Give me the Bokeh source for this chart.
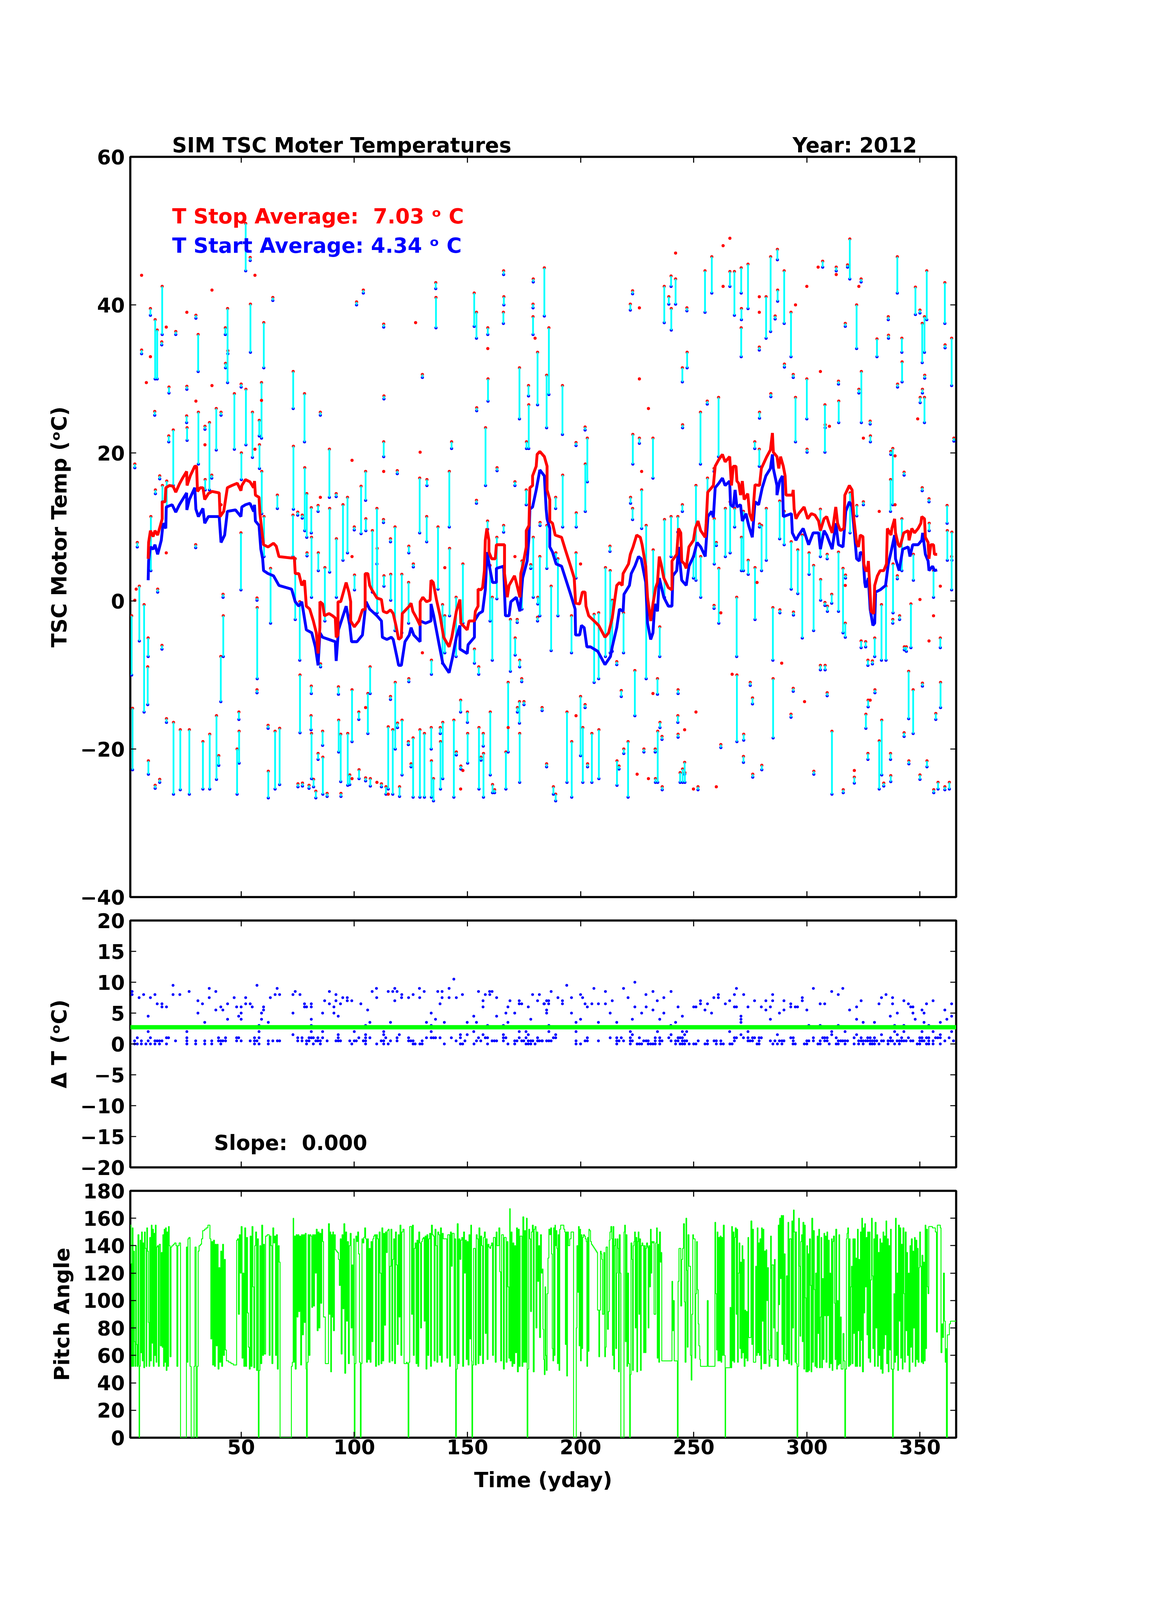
from bokeh.plotting import figure
from bokeh.layouts import column
from bokeh.models import Range1d, LinearAxis, FixedTicker, Label
from bokeh.embed import file_html
from bokeh.resources import INLINE

# ---------------- data ----------------
year = 2012
t_stop_avg = 7.03
t_start_avg = 4.34
dt_slope = 0.000
dt_intercept = 2.7

# individual moves: day, stop temperature (red end), start temperature (blue end)
ev_day = [
    1.6, 2.0, 3.0, 4.1, 5.0, 6.0, 7.1, 8.9, 8.7, 9.0,
    9.9, 10.1, 12.0, 11.8, 12.1, 12.0, 12.9, 13.1, 14.0, 14.0,
    15.1, 14.9, 15.2, 15.0, 17.1, 17.0, 18.1, 18.0, 20.0, 20.1,
    21.1, 23.1, 26.0, 25.9, 26.1, 27.1, 30.0, 29.9, 31.0, 31.1,
    33.1, 34.0, 34.1, 36.0, 36.1, 37.0, 39.0, 39.1, 40.1, 41.1,
    41.0, 42.0, 42.1, 43.0, 43.1, 44.0, 44.1, 47.0, 48.2, 49.0,
    49.1, 50.0, 50.1, 49.9, 52.0, 52.1, 54.0, 54.1, 55.0, 57.0,
    57.1, 57.0, 58.0, 58.1, 59.0, 59.1, 60.0, 60.1, 61.9, 62.0,
    63.0, 64.0, 65.0, 66.0, 67.0, 73.0, 73.1, 72.9, 73.9, 75.0,
    75.9, 76.0, 75.1, 77.0, 77.1, 78.0, 78.1, 79.0, 79.1, 80.0,
    81.0, 81.1, 81.0, 80.9, 81.1, 82.0, 83.0, 84.0, 84.1, 84.0,
    85.0, 85.1, 86.0, 86.1, 87.0, 88.0, 89.0, 89.1, 92.0, 92.1,
    93.0, 93.1, 94.0, 94.1, 95.0, 97.0, 97.1, 98.0, 99.0, 100.0,
    100.1, 101.0, 102.0, 102.1, 103.0, 104.0, 105.0, 105.1, 105.0, 106.0,
    107.0, 107.1, 108.0, 110.0, 110.1, 112.0, 113.0, 113.1, 113.0, 112.9,
    113.1, 114.0, 115.0, 116.0, 116.1, 116.0, 117.0, 118.0, 118.1, 119.0,
    119.1, 120.0, 121.0, 121.1,
    124.1, 124.0, 124.1, 123.9, 125.1, 126.1, 126.0, 128.9, 129.0, 130.1,
    131.0, 132.1, 132.0, 134.1, 134.0, 134.1, 135.0, 136.0, 136.1, 137.0,
    138.0, 138.1, 139.0, 139.1, 140.0, 142.0, 142.1, 143.0, 144.0, 145.0,
    145.1, 147.0, 147.1, 148.0, 150.0, 150.1, 153.0, 153.1, 154.0, 154.1,
    154.0, 155.0, 155.1, 156.0, 157.0, 157.1, 158.0, 159.0, 159.1, 158.9,
    160.0, 160.1, 161.0, 161.1, 162.0, 163.0, 163.1, 166.0, 166.1, 165.9,
    166.0, 167.0, 168.0, 169.0, 171.0, 171.1, 172.0, 172.1, 173.0, 173.1,
    173.0, 173.1, 174.0, 174.1, 175.0, 176.0, 176.1, 177.0, 177.1, 178.0,
    179.0, 179.1, 179.0, 179.1, 181.0, 181.1, 181.0, 182.0, 182.1, 183.0,
    184.0, 185.0, 185.1, 185.0, 186.0, 187.0, 188.0, 189.0, 189.1, 189.0,
    190.0, 192.0, 192.1, 194.0, 196.0, 196.1, 198.0, 198.1, 198.0, 200.0,
    201.0, 202.0, 202.1, 202.0, 203.0, 203.1, 205.0, 206.0, 208.0, 208.1,
    211.0, 213.0, 213.1, 214.0, 216.0, 216.1, 217.0, 218.0, 219.0, 219.1,
    221.0, 222.0, 222.1, 223.0, 223.1, 223.0, 224.0, 226.0, 227.0, 228.0,
    229.0, 232.0, 232.1, 233.0, 233.1, 234.0, 234.1, 235.0, 235.1, 236.0,
    236.1, 237.0, 237.1, 239.0, 240.0, 240.1, 240.0, 242.0, 243.0, 243.1,
    243.0, 243.1, 244.0, 245.0, 245.1, 245.0, 245.1,
    247.0, 247.1, 246.0, 246.1, 249.9, 251.0, 251.9, 253.0, 253.1, 255.0,
    256.0, 256.1, 258.0, 259.0, 259.1, 259.0, 260.0, 261.0, 261.1, 262.0,
    264.0, 266.0, 266.1, 268.0, 268.1, 269.0, 269.1, 271.0, 271.1, 271.0,
    271.1, 272.0, 272.1, 272.0, 274.0, 274.1, 275.0, 276.0, 276.1, 277.0,
    277.1, 279.0, 279.1, 279.0, 279.1, 280.0, 280.1, 282.0, 282.1, 284.0,
    284.1, 285.0, 285.1, 286.0, 287.0, 287.1, 288.0, 288.1, 290.0, 290.1,
    290.0, 293.0, 293.1, 293.0, 294.0, 294.1, 294.0, 295.0, 296.0, 298.0,
    300.0, 300.1, 301.0, 303.0, 303.1, 306.0, 306.1, 306.0, 307.0, 308.0,
    308.1, 308.0, 308.1, 309.0, 309.1, 309.0, 311.0, 311.1, 313.0, 314.0,
    314.1, 314.0, 316.0, 316.1, 317.0, 317.1, 317.0, 318.0, 319.0, 319.1,
    321.0, 322.0, 322.1, 323.0, 324.0, 324.1, 324.0, 325.0, 326.0, 326.1,
    327.0, 327.1, 327.0, 328.0, 328.1, 329.0, 330.0, 330.1, 331.0, 332.0,
    333.0, 333.1, 334.0, 335.0, 336.0, 336.1, 337.0, 337.1, 337.0, 337.1,
    338.0, 338.1, 338.0, 340.0, 340.1, 340.0, 341.0, 342.0, 342.1, 342.0,
    343.0, 343.1, 343.0, 344.0, 345.0, 345.1, 346.0, 347.0, 347.1, 348.0,
    350.0, 350.1, 350.0, 351.0, 351.1, 351.0, 351.1, 352.0, 352.1, 352.0,
    353.0, 353.1, 354.0, 354.1, 356.0, 356.1, 357.0, 358.0, 359.0, 359.1,
    361.0, 361.1, 361.0, 362.0, 362.1, 363.0, 364.0, 364.1, 364.0, 365.0,
]
ev_stop = [
    -2.0, -14.5, 18.5, 7.9, 2.0, 33.9, -0.5, -5.0, -8.9, -21.6,
    39.5, 11.4, 38.0, 25.6, 15.0, -24.9, 36.6, 1.6, 16.9, -24.1,
    42.5, 35.0, 15.6, -6.0, 16.2, -15.9, 28.9, 22.3, 23.1, -16.4,
    36.4, -17.4, 29.0, 25.0, 23.4, -17.4, 38.6, 7.6, 36.0, 25.5,
    -19.0, 23.6, 16.4, 24.1, -18.0, 17.0, 26.0, -15.5, -20.9, 25.5,
    -7.5, 0.9, -2.0, 36.9, 32.1, 39.5, 33.8, 28.0, -20.0, -15.0,
    -17.6, 29.3, 20.0, 9.2, 51.0, 28.6, 46.4, 40.1, 25.5, 0.4,
    -0.9, -12.0, 24.4, 21.1, 29.5, 17.5, 37.6, 11.4, -16.8, -23.0,
    4.4, 41.0, -17.6, 14.3, -17.2, 31.0, 20.9, 11.6, 5.7, 12.0,
    -0.1, -10.0, -24.7, 11.6, -24.6, 28.0, 18.0, 14.5, 6.5, -24.9,
    12.6, 8.6, -11.5, -15.5, -17.9, -24.1, -25.7, 12.9, 6.5, -20.6,
    25.5, -8.5, -17.6, -21.1, 4.5, -26.0, 20.5, 12.5, 14.5, 8.4,
    -11.6, -16.1, -18.0, -26.0, 13.0, 14.0, -17.9, -23.5, -12.0, 10.0,
    3.5, 40.4, -15.0, -22.8, 15.5, 42.0, 17.5, 11.1, -23.9, -12.5,
    -8.9, -24.0, 9.5, 12.5, 7.1, -24.7, 37.4, 27.7, 21.5, 11.0,
    3.4, -25.1, -17.0, 8.4, 3.6, -12.9, -17.4, 10.0, -11.0, 17.6,
    -16.5, -25.1, 3.6, -16.1,
    7.4, 2.5, -10.5, -19.0, -22.0, 5.0, -18.5, 16.6, -17.4, 30.6,
    -17.9, 16.4, 11.4, -8.0, -17.1, -21.6, -24.0, 43.0, 41.0, 10.0,
    -17.1, -19.0, -0.5, -16.4, -2.0, 17.5, 7.1, 21.5, -16.1, 0.5,
    -20.4, -13.4, -22.3, 5.0, -15.0, -17.9, 41.6, -6.5, 39.0, 26.1,
    13.6, -8.9, -17.1, -21.1, -17.9, -20.6, 23.4, 36.9, 30.0, 10.8,
    4.8, -15.0, 0.5, -24.8, -25.5, 8.6, 18.0, 44.6, 41.1, 39.0,
    10.2, -20.4, -11.0, -2.5, 16.1, -5.0, -2.5, -14.4, 31.5, -8.0,
    -13.6, -17.9, -10.5, 5.4, -13.6, 15.0, 21.5, 29.1, 26.5, 4.9,
    38.4, 43.5, 40.1, 8.6, 33.6, 0.5, -2.2, 6.0, 10.6, -14.4,
    45.0, 30.5, 10.2, -22.0, 36.9, 2.0, -25.1, 14.0, 6.5, -26.1,
    5.7, 29.1, 17.0, -15.0, -2.0, -19.0, 21.4, 11.9, 6.5, -12.9,
    -17.1, 23.5, 18.5, -14.0, 22.0, -22.0, -17.9, -1.8, -1.6, -17.4,
    4.5, 7.4, 4.1, 0.1, -8.2, -21.6, -22.3, -12.1, -1.6, -20.0,
    -19.0, 40.1, 14.0, 41.9, 22.5, 12.5, -9.4, 22.0, 15.0, -20.0,
    10.2, 22.0, 6.9, -20.0, -24.0, -10.5, -17.6, -3.5, -16.4, -18.3,
    -25.1, 42.5, 11.0, 41.1, 43.9, 39.5, 11.4, 43.5, 11.4, -12.0,
    -15.5, -18.0, -23.2, 31.5, 23.8, 13.0, -22.7,
    39.6, 33.6, -21.8, -23.2, 6.0, 15.6, -25.1, 25.5, 6.0, 44.6,
    27.0, 16.6, 46.5, 17.9, 11.1, -0.6, 7.9, 27.5, 4.4, -19.4,
    12.5, 44.5, 13.4, 44.5, 12.5, 0.5, -10.0, 45.0, 39.5, 36.9,
    8.6, 12.1, -18.0, -21.0, 45.5, 5.5, -11.0, -13.1, -23.4, 21.5,
    4.5, 34.3, 25.5, 20.5, 10.4, 10.2, -22.2, 41.1, 12.5, 46.5,
    28.0, -0.9, -10.5, 38.5, 47.5, 42.0, 13.5, -1.2, 44.6, 32.0,
    12.1, 39.0, 8.0, -15.3, 30.6, -1.5, -11.8, 27.5, 6.9, 8.9,
    30.0, 20.5, 6.5, 4.8, -23.0, 12.4, 2.9, -8.7, 45.9, 26.5,
    23.8, -0.2, -8.7, 6.3, -0.7, -12.4, 0.9, -17.6, 45.1, 29.7,
    27.0, 6.6, 4.4, -25.5, 37.5, 3.5, -3.0, 45.4, 48.9, 14.6,
    -23.8, 40.0, 12.9, 28.6, 43.5, 31.0, -5.4, 13.4, -5.5, -15.3,
    -8.0, -13.4, -20.6, 24.3, 22.3, -8.1, -5.0, -12.0, 35.4, -18.9,
    -0.5, -16.1, -24.6, 2.0, 38.4, 35.9, 16.4, 20.2, -20.6, -23.6,
    20.6, 5.0, -2.5, 46.5, 29.3, 3.4, -2.0, 35.5, 32.3, 11.1,
    17.4, -6.2, -17.8, -6.2, -9.5, -21.6, -0.4, -12.0, 6.3, 42.4,
    39.3, 27.5, -23.5, 37.5, 28.6, 15.3, -11.1, 38.4, 30.5, 27.5,
    44.6, -21.6, 13.8, 10.5, 4.1, -25.5, -15.2, -24.5, -5.0, -11.0,
    43.0, 34.6, -25.1, 12.9, 9.5, -24.5, 35.5, 9.3, 6.0, 22.0,
]
ev_start = [
    -10.0, -22.8, 18.0, 7.3, -5.4, 33.4, -15.0, -7.5, -14.0, -23.4,
    38.6, 4.1, 30.0, 25.1, 14.5, -25.3, 30.0, 1.2, 16.5, -24.5,
    36.0, 34.6, 13.4, -6.5, 12.7, -16.4, 28.1, 21.5, 15.6, -26.1,
    36.0, -25.5, 28.6, 24.1, 21.7, -26.1, 38.2, 7.2, 31.0, 18.5,
    -25.4, 23.2, 15.0, 15.0, -25.4, 16.6, 20.4, -24.1, -22.2, 25.1,
    -13.6, 0.5, -7.5, 36.0, 31.5, 29.5, 33.4, 20.5, -26.1, -16.0,
    -21.9, 28.9, 16.4, 1.5, 44.6, 21.1, 46.0, 33.6, 19.4, 0.1,
    -10.5, -12.4, 22.3, 17.9, 22.0, 11.8, 31.5, 6.0, -17.2, -26.6,
    -3.0, 40.6, -25.4, 12.5, -24.8, 26.0, 12.4, 6.0, -2.5, 11.6,
    -8.0, -17.8, -25.1, 11.2, -25.0, 21.5, 9.5, 8.6, 6.1, -25.3,
    9.2, 0.5, -12.5, -17.4, -24.0, -25.1, -26.6, 12.1, 4.1, -21.4,
    25.1, -8.9, -19.5, -26.1, -2.7, -26.4, 14.0, 3.9, 14.1, 0.5,
    -12.6, -20.4, -24.4, -26.4, 5.5, 6.5, -24.9, -24.8, -19.0, 9.6,
    1.5, 40.0, -16.0, -24.0, 9.1, 41.6, 13.6, 9.5, -24.3, -17.9,
    -12.5, -25.0, 1.2, 5.0, -1.6, -25.1, 37.0, 27.3, 19.5, 10.6,
    2.0, -26.1, -25.4, 8.0, 0.1, -13.3, -26.1, -4.0, -20.0, 17.2,
    -17.1, -26.4, -4.3, -23.5,
    6.5, -3.0, -10.9, -19.4, -22.4, 4.6, -26.5, 9.2, -26.5, 30.2,
    -26.5, 15.6, 8.0, -9.9, -20.0, -26.5, -27.0, 42.2, 36.9, 1.6,
    -17.9, -25.4, -8.4, -24.0, -7.0, 10.0, -2.0, 20.6, -26.5, -7.5,
    -20.8, -15.0, -22.7, -3.0, -16.4, -21.9, 37.1, -8.4, 35.5, 25.7,
    13.2, -9.9, -25.4, -21.5, -19.6, -26.5, 15.6, 36.0, 27.0, 9.7,
    -2.7, -23.5, -8.0, -25.9, -25.9, 0.3, 17.6, 44.1, 40.0, 37.5,
    9.3, -25.4, -20.4, -9.5, 15.6, -7.3, -2.9, -15.0, 24.6, -8.9,
    -16.5, -24.5, -10.9, -1.1, -14.0, 13.0, 20.6, 27.7, 20.6, 4.4,
    36.0, 43.1, 39.6, 0.5, 26.5, -0.4, -2.7, -2.0, 10.2, -14.8,
    38.5, 23.4, 4.4, -22.4, 27.9, -6.7, -26.1, 12.5, 5.7, -27.0,
    -2.0, 22.5, 10.0, -24.5, -7.0, -26.5, 21.0, 10.0, 3.1, -20.9,
    -24.5, 23.1, 12.1, -14.4, 16.1, -22.4, -24.5, -11.0, -10.5, -24.0,
    -7.5, 6.7, -7.0, -6.8, -8.6, -24.9, -22.7, -12.9, -7.0, -20.6,
    -26.5, 39.3, 13.2, 41.5, 18.5, 11.0, -15.5, 21.3, 9.8, -20.4,
    -10.5, 16.6, -2.3, -20.4, -24.5, -12.6, -24.5, -7.5, -17.1, -18.7,
    -25.5, 37.6, 0.5, 40.1, 42.5, 36.6, 6.0, 40.1, 9.3, -12.5,
    -16.4, -18.4, -24.5, 29.6, 23.4, 12.1, -24.5,
    39.2, 31.5, -23.4, -24.5, 3.1, 2.8, -25.5, 18.5, 0.5, 39.0,
    26.6, 11.1, 41.6, 17.5, 5.0, -1.0, 7.5, 19.5, -3.0, -19.8,
    6.0, 42.5, 6.5, 38.6, 10.0, -7.5, -19.0, 41.6, 38.0, 33.0,
    4.1, 4.1, -18.8, -21.8, 39.5, 3.6, -11.4, -13.9, -23.8, 20.6,
    -2.5, 33.9, 24.7, 18.2, 10.0, 4.1, -22.8, 35.5, 5.5, 36.4,
    27.6, -8.0, -18.5, 38.1, 46.1, 40.5, 8.4, -1.6, 37.5, 31.6,
    7.6, 33.0, 1.6, -15.7, 30.2, -1.9, -12.2, 21.5, 1.0, -5.0,
    24.6, 20.1, 3.6, -4.0, -23.4, 6.0, 0.1, -9.3, 45.1, 20.1,
    23.4, -0.6, -9.3, 5.7, -1.4, -12.8, -0.3, -26.1, 44.6, 29.3,
    24.1, -1.4, -4.3, -25.9, 37.1, 3.1, -4.9, 45.1, 43.5, 9.2,
    -24.6, 34.1, 11.5, 28.1, 43.1, 24.1, -6.3, 13.0, -6.2, -17.2,
    -8.7, -14.3, -21.4, 23.9, 21.5, -8.5, -7.5, -12.4, 33.0, -25.4,
    -8.0, -23.5, -25.0, -8.0, 38.0, 35.5, 12.1, 19.8, -21.4, -24.4,
    13.0, -1.6, -3.0, 41.6, 28.9, 3.0, -2.5, 33.6, 29.6, 4.1,
    17.0, -6.6, -18.3, -6.8, -15.9, -22.0, -6.3, -17.9, 2.8, 38.7,
    38.9, 26.8, -24.1, 32.2, 28.1, 14.9, -11.5, 33.6, 30.1, 24.1,
    38.0, -22.4, 13.4, 9.5, 0.5, -25.9, -16.0, -25.4, -6.3, -14.4,
    37.5, 34.2, -25.5, 10.5, 5.5, -25.4, 29.1, 5.5, 1.5, 21.6,
]

# stop readings with no matching start
stop_only_day = [6.0, 9.9, 8.1, 37.1, 26.0, 16.9, 37.1, 30.0, 34.0, 56.1,
                 56.1, 41.1, 16.9, 3.6, 3.0, 99.0, 99.0, 85.0, 113.0, 105.0,
                 110.0, 99.0, 115.0, 59.0, 127.1, 129.1, 130.1, 140.0, 147.0, 148.0,
                 159.0, 168.0, 171.0, 179.9, 198.0, 200.0, 225.0, 226.0, 226.0, 227.0,
                 230.0, 230.0, 232.0, 242.0, 246.0, 263.0, 263.0, 266.0, 267.0, 262.0,
                 278.0, 279.0, 279.0, 288.9, 295.0, 299.0, 300.0, 305.0, 306.0, 310.0,
                 313.0, 317.0, 321.0, 323.0, 325.0, 328.0, 332.0, 339.0, 339.0, 349.0,
                 350.0, 354.0, 356.0, 359.0, 249.9, 251.0, 260.0]
stop_only_val = [44.0, 33.0, 29.5, 42.0, 39.0, 37.0, 29.1, 27.0, 21.1, 44.0,
                 20.5, 13.0, 6.5, 1.6, 0.1, 19.0, 6.0, 14.0, 17.5, -14.4,
                 -24.5, -24.0, -26.1, 27.1, 37.6, 20.1, -7.0, 4.5, -25.4, -22.9,
                 34.1, -17.1, 6.0, 35.5, -15.5, 5.0, -23.4, 39.6, 30.0, 17.5,
                 26.0, -24.0, -12.5, 47.0, -17.4, 48.0, 42.5, 49.0, -9.9, -1.6,
                 2.5, 41.1, 39.0, -8.4, 40.0, -13.6, 42.5, 45.1, 31.0, 23.6,
                 44.1, 2.1, -22.9, 42.5, 22.0, -13.4, 12.1, 19.6, 13.0, 24.6,
                 0.2, -5.4, -2.0, 2.0, -25.4, -15.0, -25.1]

# running averages
stop_avg_day = [
    8.9, 9.1, 9.9, 11.1, 11.9, 13.1, 14.3, 15.1, 15.1, 16.4, 16.7, 18.3, 19.9, 21.1, 22.7,
    24.3, 25.9, 26.1, 27.5, 29.5, 30.3, 30.7, 31.9, 33.1, 33.9, 35.5, 37.1, 40.3, 40.7, 42.3,
    43.9, 45.9, 48.3, 49.9, 50.3, 51.9, 53.9, 55.5, 55.9, 56.3, 57.9, 58.3, 59.5, 59.9, 61.9,
    64.3, 65.5, 66.7, 72.3, 73.5, 73.9, 75.5, 76.8, 78.0, 78.8, 80.3, 81.9, 83.2, 84.0, 84.8,
    84.8, 86.0, 86.8, 88.8, 90.4, 91.6, 92.0, 92.8, 92.8, 94.0, 96.4, 97.6, 98.4, 98.4, 100.0,
    102.0, 103.6, 104.8, 104.8, 106.0, 106.8, 107.6, 110.0, 112.0, 112.8, 114.4, 116.0, 117.2, 118.4, 119.6,
    120.8, 121.2, 124.3, 125.1, 125.9, 127.5, 129.1, 129.1, 130.3, 131.9, 133.5, 133.9, 134.9, 136.3, 137.9,
    139.5, 141.9, 143.1, 145.1, 146.7, 147.1, 149.9, 150.7, 153.1, 153.5, 154.7, 154.7, 155.9, 156.7, 157.5,
    157.9, 158.6, 159.5, 159.5, 160.7, 162.3, 162.8, 166.4, 166.4, 167.2, 167.6, 168.4, 170.8, 171.6, 173.2,
    173.6, 174.4, 176.0, 176.0, 177.2, 177.6, 178.8, 178.8, 180.4, 180.8, 182.0, 184.0, 185.2, 185.2, 186.4,
    186.4, 187.6, 188.8, 191.6, 193.2, 195.6, 197.2, 197.8, 199.6, 200.8, 202.0, 202.4, 203.6, 206.0, 208.0,
    210.8, 212.4, 214.0, 216.0, 217.2, 218.4, 218.8, 221.2, 222.0, 223.2, 224.8, 226.4, 227.2, 228.8, 229.6,
    231.0, 232.0, 233.2, 234.0, 234.8, 235.6, 236.8, 238.8, 240.4, 240.4, 242.5, 243.3, 244.3, 244.7, 245.9,
    246.7, 247.9, 249.9, 250.7, 251.9, 253.1, 255.1, 255.5, 256.2, 257.9, 258.7, 259.5, 261.1, 262.7, 263.9,
    265.9, 266.7, 267.5, 268.7, 269.1, 269.9, 270.7, 271.5, 272.3, 273.9, 274.7, 275.9, 277.1, 279.1, 279.9,
    282.3, 283.9, 284.8, 285.2, 286.8, 287.6, 288.4, 289.6, 290.4, 290.8, 293.6, 294.0, 294.4, 295.2, 296.4,
    298.8, 300.4, 302.0, 303.6, 305.2, 306.0, 307.6, 308.8, 310.0, 311.2, 312.8, 313.6, 314.8, 316.4, 316.8,
    318.8, 320.0, 320.8, 322.0, 322.8, 323.6, 324.8, 325.2, 326.0, 326.8, 327.2, 328.0, 328.4, 329.6, 330.0,
    331.2, 332.4, 334.0, 335.2, 335.6, 337.2, 337.6, 338.8, 339.2, 340.4, 341.2, 342.8, 344.8, 345.2, 346.4,
    347.6, 349.2, 350.4, 350.8, 352.0, 352.4, 353.6, 354.0, 354.8, 356.0, 356.4, 357.6,
]
stop_avg_val = [
    5.7, 7.9, 9.5, 8.7, 9.5, 8.9, 10.2, 11.1, 13.4, 13.4, 15.3, 15.6, 15.5, 14.7, 15.8,
    16.7, 17.5, 15.6, 16.9, 18.2, 18.2, 14.8, 15.3, 15.3, 13.7, 14.5, 14.8, 14.6, 11.4, 12.1,
    15.3, 15.6, 15.9, 14.9, 15.6, 16.4, 16.1, 15.3, 16.2, 14.3, 14.0, 11.8, 8.6, 7.6, 7.3,
    7.8, 7.4, 6.0, 5.8, 5.9, 3.7, 3.7, 2.1, 2.8, -0.7, -1.1, -2.7, -4.3, -7.1, -3.6,
    -0.1, -0.4, -2.0, -1.7, -2.0, -2.3, -4.9, -4.6, -0.1, -0.1, 2.5, 1.2, -0.1, -2.7, -3.5,
    -2.7, -1.2, -1.1, 3.7, 3.7, 2.1, 1.6, 0.4, 0.2, -1.4, -1.6, -1.2, -1.7, -3.3, -5.2,
    -4.9, -1.7, -0.7, -0.3, -1.4, -2.3, -3.3, -0.1, 0.5, -0.1, 0.1, 2.8, 2.5, 0.2, -2.0,
    -4.9, -6.2, -4.9, -1.4, 0.2, -3.0, -3.9, -2.7, -2.7, -1.4, -0.7, 1.6, 1.5, 1.8, 4.1,
    8.2, 9.8, 8.2, 6.6, 5.7, 5.7, 7.6, 7.6, 3.7, 1.8, 0.5, 2.1, 3.4, 2.5, 0.5,
    3.7, 4.7, 7.3, 9.5, 10.2, 15.3, 15.6, 16.9, 18.2, 19.8, 20.2, 19.5, 18.2, 15.0, 13.7,
    10.8, 10.5, 8.9, 8.6, 7.0, 4.7, 3.1, -0.3, -0.4, 1.2, 1.2, -0.7, -2.0, -2.7, -3.3,
    -4.9, -4.3, -2.3, 2.1, 2.5, 2.1, 3.7, 5.0, 6.3, 7.3, 8.9, 8.6, 7.6, 4.7, 0.5,
    -2.7, -0.4, 1.8, 2.5, 6.0, 5.0, 3.1, 1.8, 1.5, 5.4, 6.3, 9.8, 9.2, 5.4, 5.0,
    4.4, 7.3, 8.2, 9.8, 10.8, 9.5, 8.6, 10.5, 14.7, 15.3, 15.6, 18.2, 19.1, 19.8, 18.8,
    19.5, 15.6, 18.2, 18.2, 16.2, 15.9, 14.3, 16.2, 13.7, 14.5, 11.8, 10.8, 15.7, 15.6, 17.9,
    19.5, 20.4, 22.7, 20.1, 19.5, 17.9, 19.5, 18.2, 16.9, 14.3, 14.3, 15.0, 12.4, 11.1, 11.8,
    12.7, 11.1, 11.8, 11.6, 10.8, 9.5, 11.1, 11.4, 10.2, 9.2, 12.7, 10.5, 9.5, 9.8, 14.3,
    15.6, 15.0, 11.1, 7.9, 7.3, 8.9, 8.7, 5.0, 4.1, 4.1, 5.4, 0.9, -1.4, -1.7, 2.1,
    3.4, 4.1, 4.1, 5.0, 9.8, 8.9, 9.8, 11.1, 9.2, 7.6, 7.3, 9.2, 9.5, 8.2, 9.8,
    9.2, 9.8, 10.5, 11.4, 11.1, 8.6, 7.9, 5.7, 7.6, 7.6, 6.3, 6.3,
]
start_avg_day = [
    8.9, 9.1, 9.9, 11.1, 11.9, 13.1, 14.7, 15.5, 16.7, 16.9, 19.5, 21.1, 22.7, 25.9, 26.0,
    27.1, 29.5, 30.0, 31.1, 33.1, 33.9, 35.5, 40.3, 41.1, 42.7, 43.9, 47.5, 49.9, 50.3, 51.9,
    53.9, 55.5, 55.9, 56.3, 57.9, 58.7, 59.5, 59.9, 61.9, 64.3, 66.7, 72.3, 73.9, 75.5, 76.8,
    78.8, 81.2, 82.8, 84.0, 84.8, 86.0, 88.8, 91.6, 92.0, 93.0, 96.4, 98.0, 98.8, 101.2, 103.6,
    105.2, 106.8, 110.0, 112.0, 112.4, 114.4, 116.4, 117.2, 118.8, 119.6, 120.8, 122.4, 124.3, 125.1, 126.3,
    129.1, 129.1, 131.5, 133.9, 133.9, 135.1, 137.5, 139.1, 141.9, 143.5, 145.1, 146.7, 146.7, 149.9, 150.3,
    153.1, 153.1, 155.1, 156.7, 157.9, 158.7, 159.9, 161.1, 162.8, 162.8, 166.0, 166.4, 166.8, 168.4, 169.2,
    171.6, 173.2, 174.4, 176.4, 177.2, 177.6, 178.8, 180.4, 182.0, 184.0, 184.8, 185.2, 186.4, 186.4, 187.6,
    189.2, 191.6, 195.6, 197.6, 197.8, 199.6, 200.4, 201.6, 202.8, 204.4, 207.6, 210.8, 213.2, 214.0, 216.0,
    217.2, 218.8, 219.2, 221.6, 222.4, 224.0, 225.6, 226.8, 228.8, 229.6, 231.0, 232.0, 232.8, 234.0, 234.8,
    236.8, 238.8, 240.4, 240.8, 242.5, 243.3, 244.7, 246.7, 247.9, 249.9, 251.5, 253.1, 255.1, 256.3, 257.9,
    258.7, 259.5, 261.1, 262.7, 263.9, 265.9, 266.3, 267.5, 268.3, 269.1, 270.7, 271.5, 273.1, 274.3, 275.9,
    277.1, 278.7, 280.3, 281.9, 283.9, 284.8, 285.2, 286.8, 286.8, 288.0, 289.2, 289.6, 293.2, 293.6, 295.2,
    296.4, 298.4, 300.8, 302.8, 305.2, 306.0, 307.6, 308.8, 311.2, 312.8, 314.0, 316.0, 317.2, 318.8, 320.0,
    321.2, 322.0, 323.2, 323.6, 324.8, 325.6, 326.0, 327.2, 328.0, 329.2, 330.0, 330.4, 332.4, 334.8, 336.0,
    337.2, 338.8, 339.2, 340.8, 342.4, 344.8, 345.6, 346.8, 349.2, 350.8, 351.2, 352.4, 353.6, 354.0, 355.6,
    356.4, 357.6,
]
start_avg_val = [
    2.8, 5.4, 7.3, 7.0, 7.6, 6.3, 8.2, 10.5, 9.8, 12.7, 13.0, 12.0, 13.0, 14.6, 12.3,
    13.7, 15.3, 12.4, 11.4, 12.5, 10.5, 11.4, 11.4, 7.9, 8.9, 12.1, 12.3, 11.4, 12.7, 13.0,
    13.2, 12.1, 13.0, 10.8, 10.2, 7.0, 5.7, 4.1, 3.7, 3.4, 2.1, 1.6, -0.1, -0.7, -0.1,
    -3.9, -4.3, -6.2, -8.7, -4.3, -4.9, -5.2, -5.5, -8.1, -3.9, -0.7, -3.3, -5.5, -5.5, -4.6,
    -0.1, -1.1, -2.0, -2.7, -4.9, -5.2, -4.9, -5.2, -7.5, -8.7, -8.7, -5.5, -4.6, -3.6, -4.6,
    -5.5, -2.7, -3.0, -2.7, -0.4, -2.0, -5.9, -8.4, -9.7, -7.5, -4.9, -3.3, -6.5, -7.1, -5.9,
    -4.9, -2.7, -1.7, -1.4, 1.5, 6.6, 4.4, 2.5, 2.5, 4.4, 4.7, 1.2, -2.0, -2.0, -0.1,
    0.5, -1.4, 3.1, 5.4, 8.6, 12.4, 12.7, 15.0, 17.7, 16.9, 12.4, 11.1, 9.8, 7.3, 6.6,
    5.0, 4.7, 0.9, -1.1, -4.6, -4.6, -3.3, -3.6, -6.2, -6.2, -6.8, -8.6, -7.5, -6.2, -3.6,
    -1.1, -1.4, 0.9, 2.1, 3.7, 4.7, 6.0, 5.7, 2.5, -3.0, -5.2, -4.3, -0.4, -1.4, 3.1,
    0.5, -0.7, -0.7, 3.4, 4.1, 7.3, 2.8, 2.1, 4.7, 6.0, 7.9, 7.3, 6.0, 11.4, 12.1,
    11.3, 15.3, 15.9, 16.6, 15.6, 16.2, 13.0, 12.7, 15.0, 12.7, 13.0, 10.8, 11.8, 10.2, 8.6,
    13.4, 13.0, 15.3, 16.9, 17.9, 19.8, 17.9, 15.6, 14.3, 16.2, 16.9, 11.4, 11.8, 9.2, 8.2,
    8.9, 9.8, 7.6, 9.2, 9.2, 7.0, 9.5, 8.9, 7.0, 10.5, 7.6, 7.3, 12.1, 13.4, 12.7,
    8.6, 5.7, 5.4, 6.6, 6.3, 2.5, 1.8, 3.1, -1.1, -3.3, -3.0, 1.2, 1.5, 2.1, 5.0,
    6.6, 8.9, 5.7, 4.1, 7.0, 7.3, 6.0, 7.6, 7.6, 8.2, 9.2, 6.3, 5.4, 4.1, 4.7,
    4.1, 4.2,
]

# delta T (stop - start), grouped by the 0.5 degree levels the sensor reports
dt_levels = [10.5, 10.0, 9.5, 9.0, 8.5, 8.0, 7.5, 7.0, 6.5, 6.0, 5.5,
             5.0, 4.5, 4.0, 3.5, 3.0, 2.0, 1.5, 1.0, 0.5, 0.0]
dt_days = [
    [144.0],
    [224.0],
    [19.9, 57.0, 193.9],
    [35.9, 65.9, 109.8, 117.9, 128.8, 141.9, 205.9, 219.0, 268.9, 302.9, 315.9],
    [1.8, 27.0, 38.8, 73.9, 89.0, 107.9, 115.0, 117.0, 118.9, 130.9, 136.9, 138.8, 154.9,
     159.8, 160.9, 187.0, 211.0, 232.0, 240.0, 311.0],
    [1.8, 6.9, 11.9, 19.9, 22.9, 65.0, 67.0, 72.9, 76.0, 91.9, 121.0, 126.0, 147.8, 157.9,
     159.9, 178.8, 181.8, 200.0, 228.9, 260.9, 268.0, 272.1, 284.9, 313.9, 335.0],
    [4.9, 9.9, 35.9, 46.9, 52.0, 62.9, 94.9, 96.9, 109.9, 120.9, 124.0, 128.9, 138.8, 141.9,
     145.1, 162.9, 190.0, 196.0, 200.9, 221.0, 236.8, 258.9, 260.9, 298.0, 333.0, 337.9],
    [30.9, 86.9, 91.9, 96.9, 98.9, 117.9, 156.9, 168.8, 172.9, 181.0, 185.0, 185.9, 192.0,
     214.0, 233.9, 253.0, 265.9, 276.9, 281.9, 284.9, 289.9, 298.0, 324.0, 342.9, 355.8],
    [12.9, 15.0, 32.9, 44.0, 52.0, 54.0, 78.0, 81.0, 89.0, 93.9, 102.9, 137.9, 172.9, 174.0,
     183.8, 184.0, 185.9, 192.0, 202.0, 205.0, 207.9, 211.0, 253.0, 256.1, 264.0, 292.9,
     305.9, 307.9, 331.9, 337.9, 344.9, 352.9, 364.0],
    [15.0, 17.0, 41.0, 48.0, 50.0, 54.9, 59.9, 78.0, 78.9, 81.0, 91.0, 156.9, 167.9, 176.9,
     203.0, 224.0, 229.0, 243.1, 250.0, 251.0, 268.0, 268.9, 274.0, 279.9, 283.9, 292.9,
     294.9, 295.9, 322.0, 345.9, 346.9],
    [38.8, 41.9, 59.9, 105.9, 185.0, 232.0, 255.0, 281.9, 289.9, 300.0, 318.9, 350.9, 361.0],
    [30.9, 50.0, 59.0, 72.9, 86.0, 91.0, 134.0, 167.0, 170.9, 185.0, 196.0, 213.1, 227.0,
     236.8, 257.9, 287.9, 340.0, 346.9, 351.8],
    [8.9, 48.9, 92.9, 152.8, 162.9, 245.0, 270.9, 336.9, 364.0],
    [44.0, 50.0, 59.0, 81.0, 135.9, 178.0, 200.0, 222.9, 235.0, 270.9, 283.9, 322.0, 347.9, 361.9],
    [33.9, 62.0, 106.9, 116.0, 131.9, 139.8, 149.9, 154.0, 167.9, 198.0, 207.9, 216.0, 242.0,
     270.9, 324.9, 329.9, 351.8, 359.0],
    [57.9, 81.0, 105.0, 134.0, 158.9, 165.9, 186.0, 239.9, 300.9, 305.9, 313.9, 338.8, 342.9, 353.9],
    [8.9, 26.0, 57.9, 81.0, 86.0, 100.0, 113.0, 134.0, 152.8, 172.9, 175.9, 186.0, 198.0,
     222.0, 234.0, 245.0, 246.9, 265.9, 274.0, 311.0, 316.9, 338.8, 342.9, 350.9, 355.8, 364.0],
    [72.9, 92.9, 105.0, 113.0, 119.9, 146.9, 149.9, 156.9, 165.9, 176.9, 189.0, 222.9, 240.0,
     246.0, 270.9, 287.0, 311.0, 322.0, 333.0, 340.0, 359.0],
    [4.1, 9.9, 17.0, 17.9, 26.0, 40.0, 43.1, 48.0, 48.9, 55.9, 57.9, 75.0, 76.9, 80.0, 81.0,
     81.9, 83.9, 86.0, 92.9, 102.0, 105.0, 106.9, 113.9, 118.9, 124.0, 131.9, 134.0, 135.0,
     135.9, 137.9, 142.9, 146.9, 154.9, 157.9, 158.9, 165.9, 167.0, 172.9, 175.9, 181.0,
     188.0, 189.0, 203.0, 213.1, 216.0, 218.0, 222.0, 226.0, 233.0, 235.0, 239.0, 243.1,
     244.0, 245.0, 268.0, 268.9, 272.0, 274.0, 276.0, 276.9, 278.9, 279.9, 292.9, 294.0,
     302.9, 307.0, 307.9, 309.0, 313.0, 320.9, 324.0, 326.9, 328.0, 329.9, 337.0, 341.9,
     344.9, 349.9, 350.9, 352.9, 353.9, 356.9, 357.9, 359.0, 362.9],
    [2.9, 5.9, 8.9, 11.9, 12.9, 13.9, 15.0, 21.0, 26.0, 29.9, 33.9, 37.0, 40.0, 41.0, 41.9,
     43.1, 48.0, 50.0, 54.0, 55.9, 57.0, 62.0, 64.0, 66.0, 67.0, 75.0, 76.9, 78.9, 80.0,
     83.0, 83.9, 85.0, 88.0, 91.9, 92.9, 93.9, 98.0, 100.0, 100.9, 104.0, 105.0, 111.9,
     113.0, 116.0, 118.9, 124.0, 125.0, 126.0, 130.0, 145.0, 148.9, 154.0, 155.9, 160.9,
     161.9, 162.9, 165.9, 170.9, 171.9, 174.0, 174.9, 176.9, 178.0, 178.9, 181.0, 181.8,
     182.9, 183.1, 185.0, 186.0, 187.0, 198.0, 202.0, 203.0, 207.9, 216.0, 217.0, 219.0,
     222.0, 222.9, 227.9, 229.0, 229.9, 233.0, 235.0, 236.0, 240.0, 242.0, 243.1, 245.0,
     246.0, 246.9, 252.0, 256.1, 259.0, 260.0, 262.0, 268.0, 274.0, 274.9, 276.0, 278.9,
     283.9, 285.9, 287.9, 289.0, 289.9, 294.0, 300.0, 300.9, 302.9, 305.9, 307.9, 309.0,
     313.9, 315.0, 315.9, 316.9, 318.0, 322.9, 324.0, 324.9, 326.0, 326.9, 328.0, 328.9,
     329.9, 330.9, 333.0, 333.9, 335.9, 337.0, 337.9, 339.9, 340.9, 341.9, 342.9, 343.9,
     345.9, 346.9, 349.9, 350.9, 351.8, 353.9, 355.8, 361.0, 364.8],
    [2.9, 4.1, 5.9, 7.9, 9.9, 11.9, 13.9, 17.0, 26.0, 29.9, 33.9, 37.0, 41.0, 55.9, 57.9,
     62.0, 78.9, 81.9, 85.0, 98.9, 105.0, 109.9, 113.0, 115.0, 126.0, 126.9, 129.0, 130.0,
     139.8, 146.9, 147.9, 152.9, 158.9, 167.9, 170.9, 175.9, 176.9, 178.0, 179.9, 198.0,
     200.0, 216.0, 222.0, 225.0, 226.0, 227.0, 229.9, 231.0, 232.0, 233.0, 235.0, 242.0,
     244.0, 245.0, 246.0, 248.0, 250.0, 251.0, 255.0, 256.1, 260.0, 262.0, 263.1, 266.0,
     267.0, 278.0, 278.9, 285.0, 287.0, 289.0, 293.9, 294.9, 298.9, 300.0, 304.9, 305.9,
     309.9, 313.0, 313.9, 316.9, 320.9, 322.9, 324.9, 328.0, 328.9, 329.9, 331.9, 335.9,
     338.8, 340.9, 348.8, 349.9, 352.9, 353.9, 355.8, 359.0],
]

# pitch angle change points (value held until the next point)
pitch_day = [
    1.0, 1.3, 1.6, 1.9, 2.2, 2.5, 2.8, 3.1, 3.4, 3.7,
    4.0, 4.4, 4.8, 4.9, 5.1, 5.4, 5.7, 6.0, 6.3, 6.6,
    7.0, 7.3, 7.6, 8.0, 8.3, 8.6, 9.0, 9.3, 9.6, 10.0,
    10.3, 10.6, 10.9, 11.2, 11.5, 11.8, 12.1, 12.4, 12.7, 13.0,
    13.4, 13.8, 14.3, 14.7, 15.1, 15.4, 15.7, 16.0, 16.3, 16.6,
    16.9, 17.2, 17.6, 17.9, 18.2, 18.6, 19.0, 19.4, 20.0, 20.6,
    21.2, 21.6, 22.0, 22.6, 23.2, 25.8, 26.2, 26.5, 26.9, 27.4,
    27.9, 29.2, 29.6, 30.1, 30.6, 31.0, 31.4, 32.0, 32.5, 33.0,
    33.8, 34.5, 35.3, 36.2, 36.6, 37.0, 37.4, 37.8, 38.2, 38.6,
    39.0, 39.4, 39.8, 40.2, 40.6, 41.0, 41.4, 41.8, 42.2, 42.6,
    43.0, 43.5, 44.5, 45.5, 46.5, 48.0, 48.4, 48.8, 49.2, 49.6,
    50.0, 50.4, 50.8, 51.2, 51.6, 52.0, 52.4, 52.8, 53.2, 53.6,
    54.0, 54.4, 54.8, 55.2, 55.6, 56.0, 56.4, 56.8, 57.2, 57.6,
    57.9, 58.3, 58.7, 59.1, 59.5, 59.9, 60.3, 60.8, 61.5, 62.4,
    62.8, 63.2, 63.6, 64.0, 64.4, 64.8, 65.2, 65.6, 66.0, 66.4,
    66.8, 67.2, 72.2, 72.6, 73.0, 73.2, 73.5, 73.9, 74.3, 74.7,
    75.1, 75.5, 75.9, 76.3, 76.7, 77.1, 77.5, 77.9, 78.3, 78.7,
    78.9, 79.2, 79.6, 80.0, 80.4, 80.8, 81.2, 81.6, 82.0, 82.4,
    82.8, 83.2, 83.6, 84.0, 84.4, 84.8, 85.2, 85.6, 86.0, 86.4,
    87.2, 88.6, 89.0, 89.3, 89.6, 89.9, 90.2, 90.5, 90.8, 91.2,
    91.6, 92.0, 92.5, 93.0, 93.4, 93.8, 94.2, 94.6, 95.0, 95.4,
    95.8, 96.2, 96.6, 97.0, 97.4, 97.8, 98.2, 98.6, 99.0, 99.4,
    99.8, 100.0, 100.3, 100.7, 101.1, 101.5, 101.9, 102.3, 102.7, 103.0,
    103.4, 103.8, 104.2, 104.6, 105.0, 105.4, 105.8, 106.2, 106.6, 107.0,
    107.4, 107.8, 108.2, 108.6, 109.0, 109.4, 109.8, 110.2, 110.6, 111.0,
    111.4, 111.8, 112.2, 112.6, 113.0, 113.4, 113.8, 114.2, 114.6, 115.0,
    115.4, 115.8, 116.2, 116.6, 117.0, 117.4, 117.8, 118.2, 118.6, 119.0,
    119.4, 119.8, 120.2, 120.6, 121.0, 121.5, 122.0, 123.0, 123.4, 123.8,
    124.1, 124.5, 125.3, 125.7, 126.1, 126.5, 126.9, 127.3, 127.7, 128.1,
    128.5, 128.9, 129.3, 129.7, 130.1, 130.5, 130.9, 131.3, 131.7, 132.1,
    132.5, 132.9, 133.3, 133.7, 134.1, 134.5, 134.9, 135.3, 135.7, 136.1,
    136.5, 136.9, 137.3, 137.7, 138.1, 138.5, 138.9, 139.3, 140.9, 141.3,
    142.1, 142.5, 142.9, 143.3, 144.1, 144.4, 144.8, 145.1, 145.5, 145.9,
    146.3, 146.7, 147.1, 147.5, 147.9, 148.3, 148.7, 149.1, 149.5, 149.9,
    150.3, 150.7, 151.1, 151.5, 151.8, 152.0, 152.3, 152.7, 153.5, 153.9,
    154.3, 154.7, 155.1, 155.5, 155.9, 156.3, 156.7, 157.1, 157.5, 157.9,
    158.3, 158.7, 159.1, 159.5, 159.9, 160.3, 160.7, 161.1, 161.5, 162.3,
    162.7, 163.1, 163.9, 164.3, 164.7, 165.1, 165.9, 166.3, 167.1, 167.5,
    167.9, 168.3, 168.7, 168.9, 169.3, 169.7, 170.1, 170.5, 170.9, 171.3,
    171.7, 172.1, 172.5, 172.9, 173.3, 174.1, 174.5, 174.9, 175.3, 175.7,
    176.1, 176.4, 176.7, 177.1, 177.5, 177.9, 178.3, 178.7, 179.1, 179.5,
    179.9, 180.3, 180.7, 181.1, 181.5, 181.9, 182.3, 182.7, 183.1, 183.4,
    183.7, 184.0, 184.3, 184.6, 184.9, 185.2, 185.6, 186.0, 186.4, 186.8,
    187.2, 187.5, 187.8, 188.1, 188.4, 188.7, 188.9, 189.2, 189.5, 189.8,
    190.1, 190.5, 190.8, 191.2, 192.6, 193.0, 193.3, 193.6, 193.9, 194.2,
    194.6, 195.2, 195.8, 196.9, 198.1, 198.4, 198.8, 199.1, 199.4, 199.7,
    200.0, 200.3, 200.6, 200.9, 201.3, 201.7, 202.1, 202.5, 202.8, 203.1,
    203.4, 203.7, 204.0, 204.4, 204.8, 205.2, 205.6, 206.0, 206.4, 206.8,
    207.2, 207.5, 208.1, 208.4, 208.8, 209.1, 209.4, 209.7, 210.3, 210.7,
    211.0, 211.3, 211.9, 212.3, 212.7, 213.0, 213.4, 213.8, 214.1, 214.4,
    214.7, 215.0, 215.3, 215.6, 215.9, 216.2, 216.5, 216.8, 217.1, 217.5,
    217.8, 219.2, 219.5, 219.8, 220.1, 220.5, 220.8, 221.2, 221.7, 222.0,
    222.3, 222.7, 223.0, 223.3, 223.6, 223.9, 224.2, 224.5, 224.9, 225.2,
    225.5, 225.8, 226.1, 226.5, 226.8, 227.2, 227.5, 227.9, 228.2, 228.6,
    228.9, 229.2, 229.6, 229.9, 230.2, 230.5, 230.9, 231.2, 231.5, 231.9,
    232.2, 232.5, 233.2, 233.6, 233.9, 234.2, 234.6, 234.9, 235.3, 235.6,
    235.9, 240.4, 240.7, 241.0, 241.4, 242.8, 243.1, 243.5, 244.3, 244.7,
    245.1, 245.5, 245.9, 246.2, 246.6, 246.9, 247.2, 247.5, 247.9, 248.6,
    248.9, 249.2, 249.6, 249.9, 250.6, 250.9, 251.3, 251.6, 252.0, 252.3,
    252.7, 253.0, 256.0, 256.4, 259.4, 259.7, 260.1, 260.4, 260.7, 261.0,
    261.4, 261.7, 262.1, 262.4, 262.8, 263.1, 263.5, 263.9, 264.1, 266.1,
    266.4, 266.8, 267.1, 267.4, 267.8, 268.1, 268.4, 268.8, 269.1, 269.4,
    269.7, 270.1, 270.4, 270.7, 271.0, 271.4, 271.7, 272.0, 272.3, 272.7,
    273.0, 273.3, 273.6, 274.0, 274.3, 275.3, 275.7, 276.0, 276.4, 277.4,
    277.7, 278.1, 278.4, 278.7, 279.0, 279.3, 279.7, 280.0, 280.3, 280.7,
    281.0, 281.3, 281.7, 282.0, 282.3, 282.7, 283.0, 283.3, 283.7, 284.0,
    284.3, 284.6, 285.3, 285.7, 286.0, 286.7, 287.0, 287.4, 287.7, 288.0,
    288.4, 288.7, 289.0, 289.4, 289.7, 290.0, 290.4, 290.7, 291.0, 291.4,
    291.7, 292.0, 292.4, 293.1, 293.4, 293.7, 294.1, 294.4, 294.8, 295.1,
    295.4, 295.7, 296.0, 296.4, 296.7, 297.0, 297.3, 297.7, 298.0, 298.3,
    298.7, 299.0, 299.3, 299.6, 300.0, 300.3, 300.6, 300.9, 301.2, 301.6,
    301.9, 302.2, 302.6, 302.9, 303.3, 303.6, 303.9, 304.3, 304.6, 304.9,
    305.3, 305.6, 306.0, 306.3, 306.6, 306.9, 307.3, 307.6, 307.9, 308.2,
    308.5, 308.9, 309.2, 309.5, 309.9, 310.2, 310.5, 310.9, 311.2, 311.5,
    311.8, 312.2, 312.5, 312.8, 313.2, 313.5, 313.8, 314.2, 314.5, 314.9,
    315.2, 316.0, 316.4, 316.8, 317.1, 317.5, 317.8, 318.1, 318.4, 318.8,
    319.1, 319.4, 319.7, 320.0, 320.4, 320.7, 321.0, 321.4, 321.7, 322.0,
    322.4, 322.7, 323.0, 323.3, 323.7, 324.0, 324.3, 324.6, 325.0, 325.3,
    325.6, 325.9, 326.3, 326.6, 326.9, 327.2, 327.6, 327.9, 328.2, 328.6,
    328.9, 329.2, 329.6, 329.9, 330.2, 330.6, 331.0, 331.3, 331.6, 332.0,
    332.3, 332.6, 333.0, 333.3, 333.7, 334.0, 334.3, 334.7, 335.0, 335.3,
    335.7, 336.0, 336.3, 336.7, 337.0, 337.3, 337.9, 338.2, 338.5, 338.8,
    339.2, 339.5, 339.8, 340.2, 340.5, 340.9, 341.2, 341.5, 341.8, 342.2,
    342.5, 342.9, 343.2, 343.5, 343.9, 344.2, 344.5, 344.9, 345.2, 345.6,
    345.9, 346.2, 346.6, 346.9, 347.2, 347.6, 347.9, 348.2, 348.6, 348.9,
    349.2, 349.6, 349.9, 350.2, 350.6, 350.9, 351.3, 351.6, 351.9, 352.3,
    352.6, 352.9, 353.3, 353.6, 353.9, 355.5, 356.8, 357.3, 357.7, 359.0,
    359.3, 359.7, 360.1, 360.4, 360.8, 361.2, 361.5, 361.7, 362.1, 363.0,
    363.5, 366.0,
]
pitch_val = [
    155, 127, 52, 153, 52, 136, 70, 52, 140, 68,
    52, 148, 53, 0, 52, 144, 62, 150, 56, 142,
    51, 150, 138, 52, 153, 136, 84, 52, 146, 56,
    155, 69, 152, 52, 149, 60, 155, 55, 139, 140,
    52, 141, 67, 135, 66, 148, 52, 152, 55, 153,
    49, 150, 52, 154, 140, 59, 139, 140, 141, 142,
    140, 52, 140, 142, 0, 139, 55, 145, 146, 52,
    0, 52, 139, 0, 52, 136, 140, 141, 145, 151,
    152, 153, 155, 145, 72, 143, 53, 144, 52, 141,
    67, 141, 50, 124, 55, 136, 52, 141, 60, 130,
    64, 56, 55, 54, 53, 144, 145, 90, 148, 120,
    154, 58, 120, 52, 153, 52, 146, 91, 66, 50,
    147, 52, 154, 110, 51, 140, 150, 49, 145, 0,
    49, 140, 54, 155, 60, 141, 61, 147, 148, 60,
    147, 140, 54, 153, 142, 147, 60, 148, 50, 140,
    128, 0, 52, 55, 160, 55, 147, 50, 148, 88,
    148, 92, 147, 53, 148, 75, 148, 84, 149, 50,
    0, 55, 148, 60, 148, 147, 95, 148, 96, 148,
    120, 152, 78, 150, 80, 149, 98, 152, 143, 88,
    54, 156, 90, 150, 48, 148, 88, 150, 78, 148,
    137, 136, 135, 130, 111, 145, 61, 148, 94, 156,
    47, 150, 85, 143, 54, 140, 149, 80, 126, 60,
    145, 0, 54, 147, 143, 150, 134, 55, 0, 54,
    145, 142, 146, 153, 145, 55, 145, 57, 138, 55,
    143, 70, 145, 147, 148, 52, 148, 145, 53, 150,
    120, 54, 153, 56, 149, 82, 150, 135, 151, 152,
    55, 125, 152, 56, 130, 145, 54, 150, 126, 68,
    148, 88, 155, 60, 150, 152, 54, 55, 54, 0,
    55, 154, 90, 155, 60, 138, 142, 54, 144, 52,
    150, 142, 80, 143, 145, 146, 85, 147, 50, 148,
    60, 145, 149, 52, 155, 148, 147, 56, 152, 140,
    55, 150, 148, 60, 153, 55, 149, 145, 58, 148,
    52, 150, 125, 149, 60, 145, 0, 50, 156, 54,
    145, 130, 144, 146, 52, 150, 120, 144, 57, 143,
    53, 148, 72, 155, 56, 0, 53, 138, 53, 148,
    145, 54, 153, 60, 147, 140, 54, 146, 150, 76,
    145, 57, 141, 139, 138, 140, 142, 60, 146, 55,
    150, 140, 153, 121, 56, 148, 50, 146, 55, 143,
    110, 58, 167, 56, 150, 52, 142, 54, 140, 62,
    153, 48, 152, 52, 147, 52, 161, 55, 151, 55,
    160, 0, 50, 152, 145, 92, 150, 155, 48, 152,
    154, 80, 150, 114, 140, 73, 148, 120, 123, 79,
    57, 46, 110, 60, 49, 105, 131, 152, 148, 153,
    134, 65, 56, 153, 60, 155, 140, 151, 138, 54,
    148, 49, 152, 155, 152, 150, 68, 150, 45, 150,
    140, 145, 150, 0, 80, 140, 106, 154, 67, 152,
    56, 148, 65, 146, 148, 147, 145, 143, 52, 146,
    63, 152, 151, 143, 141, 140, 139, 138, 137, 136,
    135, 93, 59, 93, 136, 134, 130, 90, 135, 59,
    66, 139, 79, 92, 144, 150, 154, 145, 60, 154,
    50, 140, 145, 65, 120, 145, 138, 48, 148, 120,
    0, 150, 155, 70, 148, 52, 120, 54, 0, 46,
    142, 130, 49, 140, 143, 150, 80, 146, 48, 143,
    150, 90, 145, 49, 140, 142, 140, 62, 140, 62,
    138, 142, 139, 80, 140, 110, 152, 120, 143, 142,
    143, 90, 142, 153, 58, 141, 55, 150, 128, 135,
    56, 114, 78, 100, 56, 0, 114, 138, 96, 130,
    138, 156, 99, 55, 160, 122, 66, 148, 125, 60,
    42, 90, 148, 145, 58, 105, 143, 108, 83, 67,
    57, 52, 100, 52, 157, 105, 64, 150, 56, 146,
    56, 147, 55, 146, 60, 155, 60, 0, 51, 95,
    51, 154, 56, 150, 55, 146, 153, 90, 152, 55,
    120, 142, 65, 128, 58, 140, 62, 130, 52, 93,
    58, 92, 56, 146, 73, 158, 68, 152, 55, 125,
    60, 153, 62, 142, 60, 145, 50, 153, 85, 152,
    54, 136, 54, 137, 100, 124, 64, 52, 60, 147,
    58, 126, 80, 130, 57, 77, 52, 155, 97, 160,
    116, 162, 68, 162, 56, 134, 61, 57, 118, 57,
    157, 54, 145, 53, 158, 80, 166, 150, 55, 150,
    54, 0, 52, 160, 125, 74, 143, 148, 70, 157,
    50, 155, 102, 48, 140, 48, 134, 49, 145, 111,
    48, 160, 55, 151, 108, 52, 120, 51, 147, 76,
    152, 51, 88, 146, 51, 116, 57, 149, 89, 147,
    55, 150, 89, 144, 51, 120, 54, 145, 49, 143,
    147, 98, 57, 152, 50, 100, 53, 148, 54, 88,
    50, 76, 56, 0, 50, 145, 149, 153, 52, 145,
    53, 110, 125, 54, 145, 76, 145, 52, 131, 52,
    152, 78, 130, 52, 150, 71, 160, 48, 153, 91,
    156, 110, 146, 75, 150, 58, 150, 55, 115, 160,
    118, 65, 145, 52, 157, 80, 148, 52, 135, 60,
    145, 50, 142, 47, 150, 65, 147, 75, 158, 54,
    145, 48, 140, 64, 152, 50, 0, 50, 105, 55,
    160, 60, 120, 49, 155, 85, 153, 58, 141, 50,
    153, 105, 55, 150, 78, 135, 60, 120, 48, 140,
    66, 145, 55, 136, 80, 146, 52, 144, 57, 138,
    55, 124, 150, 125, 55, 133, 54, 128, 56, 155,
    65, 152, 110, 105, 154, 153, 150, 77, 155, 153,
    62, 83, 73, 120, 85, 55, 65, 0, 75, 83,
    85, 85,
]

x_ticks = [50, 100, 150, 200, 250, 300, 350]

FONT = "DejaVu Sans"
TICK_SIZE = "51px"
TEXT_SIZE = "53px"
FRAME_W = 2114
LEFT_B = 333
RIGHT_B = 250
NBSP = "\u00a0"
DEG = "\u1d52"


def style_axis(axis, ticks, show_labels):
    axis.ticker = FixedTicker(ticks=ticks)
    axis.axis_line_color = None
    axis.major_tick_in = 15
    axis.major_tick_out = 0
    axis.major_tick_line_width = 2.7
    axis.major_tick_line_color = "black"
    axis.minor_tick_line_color = None
    axis.major_label_text_font = FONT
    axis.major_label_text_font_style = "bold"
    if show_labels:
        axis.major_label_text_color = "black"
        axis.major_label_text_font_size = TICK_SIZE
        axis.major_label_overrides = {t: str(t).replace("-", "\u2212") for t in ticks}
    else:
        # tick marks only, no label text at all
        axis.major_label_text_color = None
        axis.major_label_text_font_size = "1px"
        axis.major_label_standoff = 0


def make_panel(frame_h, y_lo, y_hi, y_ticks, top, bottom, show_x, ylabel):
    p = figure(frame_width=FRAME_W, frame_height=frame_h,
               x_range=Range1d(1, 366), y_range=Range1d(y_lo, y_hi),
               min_border_left=LEFT_B, min_border_right=RIGHT_B,
               min_border_top=top, min_border_bottom=bottom,
               output_backend="svg", toolbar_location=None)
    p.grid.visible = False
    p.outline_line_color = "black"
    p.outline_line_width = 5.5
    p.background_fill_color = "white"
    p.border_fill_color = "white"

    style_axis(p.below[0], x_ticks, show_x)
    style_axis(p.left[0], y_ticks, True)
    p.left[0].major_label_standoff = 14
    p.left[0].axis_label = ylabel
    p.left[0].axis_label_text_font = FONT
    p.left[0].axis_label_text_font_style = "bold"
    p.left[0].axis_label_text_font_size = TEXT_SIZE
    p.left[0].axis_label_text_color = "black"
    p.left[0].axis_label_standoff = 21

    top_axis = LinearAxis()
    style_axis(top_axis, x_ticks, False)
    p.add_layout(top_axis, "above")
    right_axis = LinearAxis()
    style_axis(right_axis, y_ticks, False)
    p.add_layout(right_axis, "right")
    return p


def make_strip(frame_h, y_lo, y_hi, top, bottom):
    # axis-free strip that carries text outside the plotting frames
    s = figure(frame_width=FRAME_W, frame_height=frame_h,
               x_range=Range1d(1, 366), y_range=Range1d(y_lo, y_hi),
               min_border_left=LEFT_B, min_border_right=RIGHT_B,
               min_border_top=top, min_border_bottom=bottom,
               x_axis_location=None, y_axis_location=None,
               output_backend="svg", toolbar_location=None)
    s.grid.visible = False
    s.outline_line_color = None
    s.background_fill_color = "white"
    s.border_fill_color = "white"
    return s


def add_text(p, x, y, text, color="black", baseline="alphabetic", align="left"):
    p.add_layout(Label(x=x, y=y, text=text, text_font=FONT, text_font_style="bold",
                       text_font_size=TEXT_SIZE, text_color=color,
                       text_baseline=baseline, text_align=align))


# ---------------- top panel: motor temperatures ----------------
p1 = make_panel(1895, -40, 60, [-40, -20, 0, 20, 40, 60], 401, 30, False,
                f"TSC Motor Temp ({DEG}C)")
# the heading line sits in the title slot just above the frame; the year is pushed
# to the right end with non-breaking spaces so both stay on the same baseline
p1.title.text = "SIM TSC Moter Temperatures" + NBSP * 39 + f"Year: {year}"
p1.title.align = "left"
p1.title.offset = 107
p1.title.standoff = 0
p1.title.text_font = FONT
p1.title.text_font_size = TEXT_SIZE
p1.title.text_font_style = "bold"
p1.title.text_color = "black"

p1.scatter(ev_day, ev_stop, size=7.3, color="#ff0000")
p1.scatter(ev_day, ev_start, size=7.3, color="#0000ff")
p1.segment(x0=ev_day, y0=ev_start, x1=ev_day, y1=ev_stop, line_color="#00ffff", line_width=4.5)
p1.scatter(stop_only_day, stop_only_val, size=7.3, color="#ff0000")
p1.line(start_avg_day, start_avg_val, line_color="#0000ff", line_width=7.3)
p1.line(stop_avg_day, stop_avg_val, line_color="#ff0000", line_width=7.3)

add_text(p1, 19.5, 52.0, f"T Stop Average: {NBSP}{t_stop_avg:.2f} {DEG} C", "#ff0000")
add_text(p1, 19.5, 48.0, f"T Start Average: {t_start_avg:.2f} {DEG} C", "#0000ff")

# ---------------- middle panel: delta T ----------------
p2 = make_panel(632, -20, 20, [-20, -15, -10, -5, 0, 5, 10, 15, 20], 30, 30, False,
                f"\u0394 T ({DEG}C)")
dt_x = [d for days in dt_days for d in days]
dt_y = [lv for lv, days in zip(dt_levels, dt_days) for _ in days]
p2.scatter(dt_x, dt_y, size=6.4, color="#0000ff")
fit_x = [1, 366]
fit_y = [dt_intercept + dt_slope * x for x in fit_x]
p2.line(fit_x, fit_y, line_color="#00ff00", line_width=11)
add_text(p2, 38.0, -16.0, f"Slope: {NBSP}{dt_slope:.3f}")

# ---------------- bottom panel: pitch angle ----------------
p3 = make_panel(632, 0, 180, [0, 20, 40, 60, 80, 100, 120, 140, 160, 180], 30, 75, True,
                "Pitch Angle")
p3.step(pitch_day, pitch_val, mode="after", line_color="#00ff00", line_width=2.3)
p3.below[0].major_label_standoff = 4

# ---------------- footer strip with the time axis title ----------------
p4 = make_strip(80, -44.15, -21.36, 0, 40)
add_text(p4, 183.5, -21.95, "Time (yday)", baseline="top", align="center")

layout = column(p1, p2, p3, p4)
open("out.html", "w").write(file_html(layout, INLINE))
